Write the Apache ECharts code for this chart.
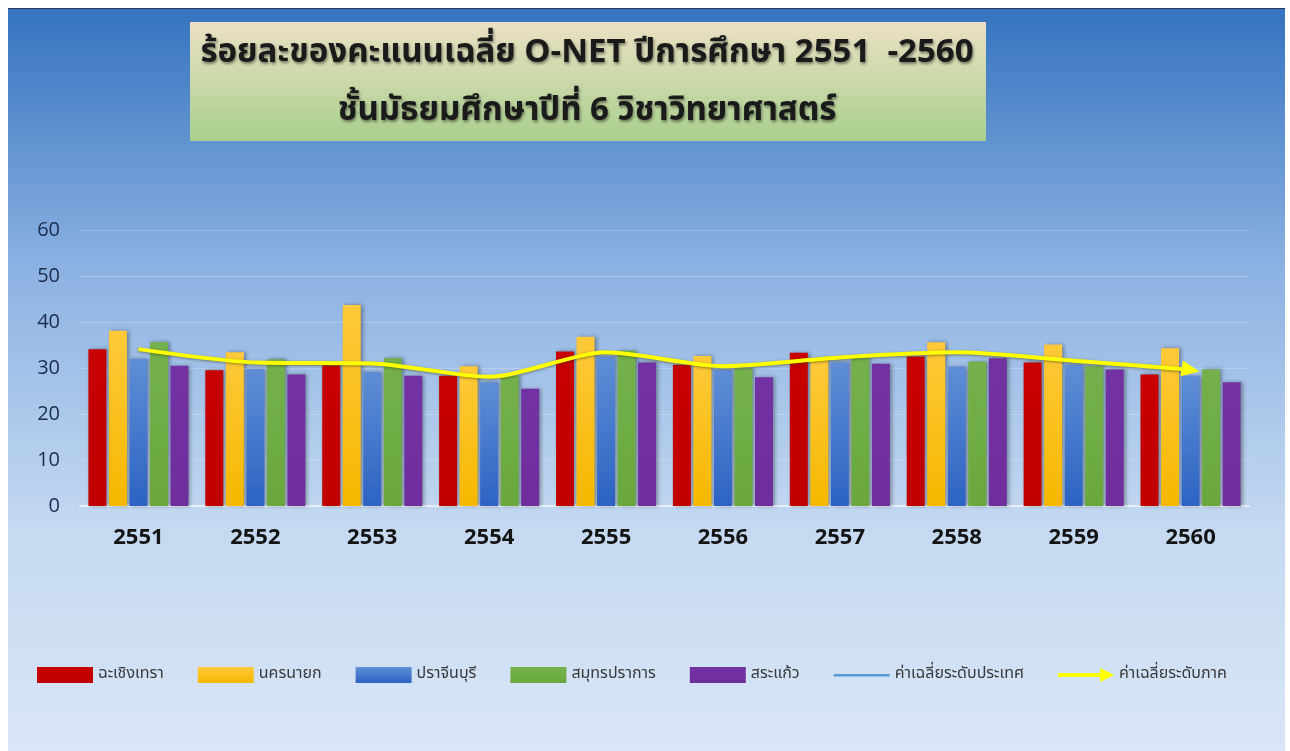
<!DOCTYPE html>
<html>
<head>
<meta charset="utf-8">
<script src="https://cdn.jsdelivr.net/npm/echarts@6/dist/echarts.min.js"></script>
<style>
    html, body { margin: 0; padding: 0; background: #fff; }
    #chart {
        position: absolute;
        left: 8px;
        top: 8px;
        width: 1277px;
        height: 743px;
        border-top: 1px solid #2a3a55;
    }
</style>
</head>
<body>
<div id="chart"></div>
<script>
const years = ['2551', '2552', '2553', '2554', '2555', '2556', '2557', '2558', '2559', '2560'];
const chachoengsao = [34.1, 29.5, 30.6, 28.3, 33.6, 30.7, 33.3, 32.5, 31.2, 28.6];
const nakhonNayok = [38.1, 33.4, 43.7, 30.4, 36.8, 32.6, 31.8, 35.6, 35.1, 34.3];
const prachinburi = [32.0, 29.8, 29.2, 26.9, 32.5, 29.6, 31.2, 30.3, 30.7, 28.3];
const samutPrakan = [35.6, 31.9, 32.2, 28.3, 33.8, 29.9, 32.1, 31.4, 30.4, 29.7];
const sakaeo = [30.5, 28.6, 28.3, 25.5, 31.2, 28.0, 30.9, 32.1, 29.7, 26.9];
const nationalAvg = [34.1, 31.2, 31.0, 28.1, 33.4, 30.4, 32.3, 33.4, 31.6, 29.6];
const regionalAvg = [34.1, 31.2, 31.0, 28.1, 33.4, 30.4, 32.3, 33.4, 31.6, 29.6];
const yTicks = [0, 10, 20, 30, 40, 50, 60];

const chart = echarts.init(document.getElementById('chart'));

function grad(top, bottom) {
    return new echarts.graphic.LinearGradient(0, 0, 0, 1, [
        { offset: 0, color: top },
        { offset: 1, color: bottom }
    ]);
}

function barSeries(name, data, top, bottom) {
    return {
        name: name,
        type: 'bar',
        barWidth: 18,
        barGap: '14%',
        data: data,
        itemStyle: {
            color: grad(top, bottom),
            shadowColor: 'rgba(0, 0, 0, 0.35)',
            shadowBlur: 4,
            shadowOffsetX: 2,
            shadowOffsetY: 0
        }
    };
}

const thaiFont = '"Noto Sans Thai", Tahoma, "DejaVu Sans", "Noto Sans", sans-serif';

const titleStyle = {
    font: 'bold 33px ' + thaiFont,
    fill: '#1a1a1a',
    textAlign: 'center',
    textVerticalAlign: 'middle',
    textShadowColor: 'rgba(0,0,0,0.45)',
    textShadowBlur: 3,
    textShadowOffsetX: 1,
    textShadowOffsetY: 2
};

// last point of the regional line gets an arrow head
const regionalData = regionalAvg.map((v, i) => {
    if (i === regionalAvg.length - 1) {
        return { value: v, symbol: 'triangle', symbolSize: [16, 18], symbolRotate: -100 };
    }
    return { value: v, symbol: 'none' };
});

chart.setOption({
    backgroundColor: new echarts.graphic.LinearGradient(0, 0, 0, 1, [
        { offset: 0, color: '#3573c0' },
        { offset: 0.35, color: '#8cb2e2' },
        { offset: 0.7, color: '#c5d9f1' },
        { offset: 1, color: '#d9e6f7' }
    ]),
    textStyle: { fontFamily: thaiFont },
    graphic: [
        {
            type: 'rect',
            left: 182,
            top: 13,
            shape: { width: 796, height: 119 },
            style: {
                fill: grad('#ece0c4', '#a8d08d')
            }
        },
        {
            type: 'text',
            x: 579,
            y: 46,
            style: Object.assign({ text: 'ร้อยละของคะแนนเฉลี่ย O-NET ปีการศึกษา 2551  -2560' }, titleStyle)
        },
        {
            type: 'text',
            x: 579,
            y: 104,
            style: Object.assign({ text: 'ชั้นมัธยมศึกษาปีที่ 6 วิชาวิทยาศาสตร์' }, titleStyle)
        }
    ],
    grid: {
        left: 72,
        right: 36,
        top: 221,
        bottom: 246
    },
    legend: {
        bottom: 64,
        left: 24,
        itemWidth: 56,
        itemHeight: 16,
        itemGap: 34,
        textStyle: {
            color: '#3a3a3a',
            fontSize: 16,
            fontFamily: thaiFont
        },
        data: [
            { name: 'ฉะเชิงเทรา', icon: 'rect' },
            { name: 'นครนายก', icon: 'rect' },
            { name: 'ปราจีนบุรี', icon: 'rect' },
            { name: 'สมุทรปราการ', icon: 'rect' },
            { name: 'สระแก้ว', icon: 'rect' },
            {
                name: 'ค่าเฉลี่ยระดับประเทศ',
                icon: 'path://M0,0 L0.1,0 L0.1,0.1 Z M0,7 L56,7 L56,9.5 L0,9.5 Z M0,15.9 L0.1,15.9 L0.1,16 Z'
            },
            {
                name: 'ค่าเฉลี่ยระดับภาค',
                icon: 'path://M0,6 L42,6 L42,1 L56,8 L42,15 L42,10 L0,10 Z',
                itemStyle: { color: '#ffff00' }
            }
        ]
    },
    xAxis: {
        type: 'category',
        data: years,
        axisLine: { show: true, lineStyle: { color: 'rgba(255,255,255,0.55)', width: 2 } },
        axisTick: { show: false },
        axisLabel: {
            color: '#141414',
            fontSize: 22,
            fontWeight: 'bold',
            margin: 21,
            fontFamily: '"Open Sans", "DejaVu Sans", sans-serif'
        }
    },
    yAxis: {
        type: 'value',
        min: yTicks[0],
        max: yTicks[yTicks.length - 1],
        interval: 10,
        axisLine: { show: false },
        axisTick: { show: false },
        splitLine: { lineStyle: { color: 'rgba(255,255,255,0.22)', width: 1 } },
        axisLabel: {
            color: '#1d2b4a',
            fontSize: 20,
            margin: 20,
            fontFamily: '"Open Sans", "DejaVu Sans", sans-serif'
        }
    },
    series: [
        barSeries('ฉะเชิงเทรา', chachoengsao, '#c80000', '#c00000'),
        barSeries('นครนายก', nakhonNayok, '#ffc93a', '#f5b800'),
        barSeries('ปราจีนบุรี', prachinburi, '#5f8ed6', '#2c63c3'),
        barSeries('สมุทรปราการ', samutPrakan, '#74b14c', '#6aa83e'),
        barSeries('สระแก้ว', sakaeo, '#7332a3', '#6e2e9c'),
        {
            name: 'ค่าเฉลี่ยระดับประเทศ',
            type: 'line',
            smooth: 0.25,
            symbol: 'none',
            z: 3,
            data: nationalAvg,
            itemStyle: { color: '#5b9bd5' },
            lineStyle: { color: '#5b9bd5', width: 3 }
        },
        {
            name: 'ค่าเฉลี่ยระดับภาค',
            type: 'line',
            smooth: 0.25,
            z: 4,
            data: regionalData,
            itemStyle: { color: '#ffff00' },
            lineStyle: {
                color: '#ffff00',
                width: 4,
                shadowColor: 'rgba(60,60,20,0.55)',
                shadowBlur: 3,
                shadowOffsetY: 1
            }
        }
    ]
});
</script>
</body>
</html>
